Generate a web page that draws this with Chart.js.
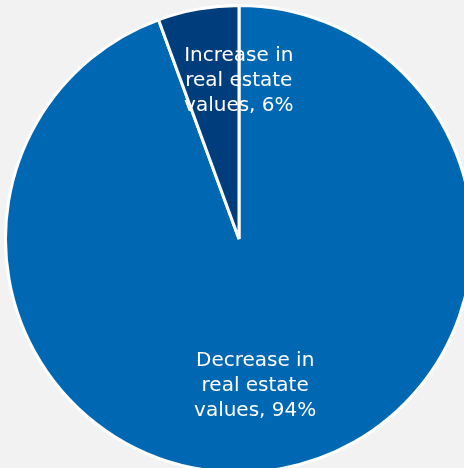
<!DOCTYPE html>
<html>
<head>
<meta charset="utf-8">
<script src="https://cdn.jsdelivr.net/npm/chart.js@4"></script>
<style>
  html, body { margin: 0; padding: 0; background: #f2f2f2; overflow: hidden; }
  #wrap { position: relative; width: 478px; height: 478px; }
</style>
</head>
<body>
<div id="wrap"><canvas id="pieChart"></canvas></div>
<script>
const categories = ["Decrease in real estate values", "Increase in real estate values"];
const shares = [94.4, 5.6];
const labelLines = [
  ["Decrease in", "real estate", "values, 94%"],
  ["Increase in", "real estate", "values, 6%"],
];

const colors = {
  slices: ["#0068b3", "#003d7d"],
  border: "#ffffff",
  text: "#ffffff",
};

// draws the white labels inside each slice
const sliceLabels = {
  id: "sliceLabels",
  afterDatasetsDraw(chart) {
    const ctx = chart.ctx;
    const meta = chart.getDatasetMeta(0);
    const place = [
      { r: 0.64, dx: -10, dy: 0 },
      { r: 0.69, dx: 28, dy: 0 },
    ];
    ctx.save();
    ctx.fillStyle = colors.text;
    ctx.font = "20px 'DejaVu Sans', sans-serif";
    ctx.textAlign = "center";
    ctx.textBaseline = "middle";
    meta.data.forEach((arc, i) => {
      const p = arc.getProps(["x", "y", "startAngle", "endAngle", "outerRadius"], true);
      const mid = (p.startAngle + p.endAngle) / 2;
      const cx = p.x + Math.cos(mid) * p.outerRadius * place[i].r + place[i].dx;
      const cy = p.y + Math.sin(mid) * p.outerRadius * place[i].r + place[i].dy;
      const lines = labelLines[i];
      const lh = 25;
      lines.forEach((line, j) => {
        ctx.fillText(line, cx, cy + (j - (lines.length - 1) / 2) * lh);
      });
    });
    ctx.restore();
  },
};

new Chart(document.getElementById("pieChart"), {
  type: "pie",
  data: {
    labels: categories,
    datasets: [
      {
        data: shares,
        backgroundColor: colors.slices,
        borderColor: colors.border,
        borderWidth: 3,
      },
    ],
  },
  options: {
    responsive: true,
    maintainAspectRatio: false,
    animation: false,
    layout: { padding: 4 },
    plugins: {
      legend: { display: false },
      tooltip: { enabled: false },
    },
  },
  plugins: [sliceLabels],
});
</script>
</body>
</html>
